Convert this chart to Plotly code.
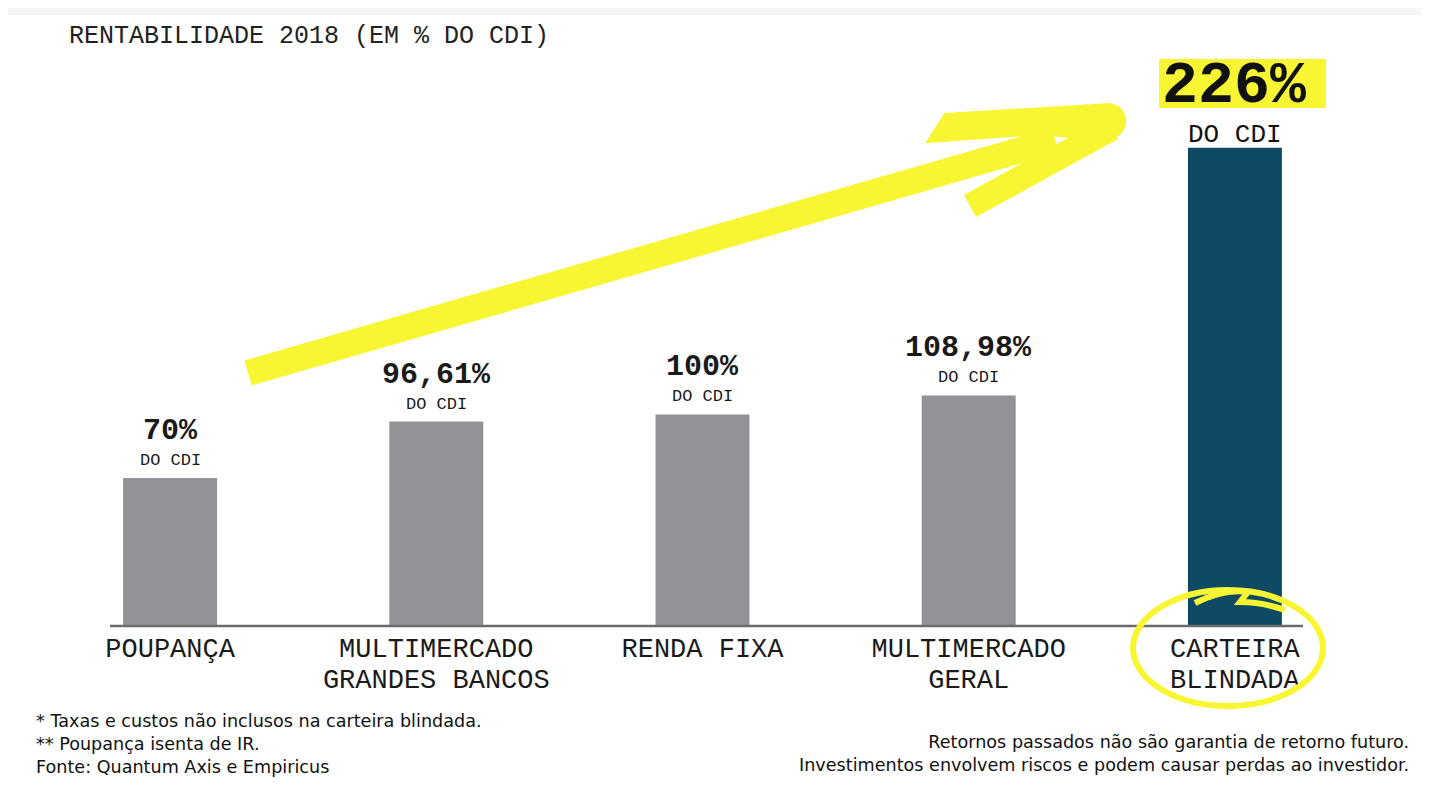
import plotly.graph_objects as go

# ---------------- data ----------------
categories = ["POUPANÇA", "MULTIMERCADO<br>GRANDES BANCOS", "RENDA FIXA",
              "MULTIMERCADO<br>GERAL", "CARTEIRA<br>BLINDADA"]
values = [70, 96.61, 100, 108.98, 226]
value_labels = ["70%", "96,61%", "100%", "108,98%", "226%"]
sub_label = "DO CDI"
bar_colors = ["#949296", "#949296", "#949296", "#949296", "#0E4A63"]

title_text = "RENTABILIDADE 2018 (EM % DO CDI)"
notes_left = ["* Taxas e custos não inclusos na carteira blindada.",
              "** Poupança isenta de IR.",
              "Fonte: Quantum Axis e Empiricus"]
notes_right = ["Retornos passados não são garantia de retorno futuro.",
               "Investimentos envolvem riscos e podem causar perdas ao investidor."]

# ---------------- layout geometry ----------------
# page body has an 8px margin, so the figure is drawn 8px smaller and
# all screen positions below are given in window pixels
OFF = 8
W, H = 1429 - 2 * OFF, 787 - 2 * OFF
PL, PR, PT, PB = 37, 1368, 97, 626          # plot area in window pixels
ML, MR, MT, MB = PL - OFF, W - (PR - OFF), PT - OFF, H - (PB - OFF)
PW, PH = PR - PL, PB - PT
YMAX = 250

def px(x):
    return (x - PL) / PW

def py(y):
    return (PB - y) / PH

TYPE = "Liberation Mono, Courier New, monospace"
SANS = "DejaVu Sans, Arial, sans-serif"
YELLOW = "#F8F533"

# tick labels: big glyphs with slightly tighter line spacing
ticktext = ["<br>".join(f"<span style='font-size:27px'>{part}</span>" for part in c.split("<br>"))
            for c in categories]

fig = go.Figure()
fig.add_trace(go.Bar(
    x=categories, y=values, marker=dict(color=bar_colors, line=dict(width=0)),
    width=0.353, hoverinfo="skip", showlegend=False,
))

annotations = []
for i, (c, v, lab) in enumerate(zip(categories, values, value_labels)):
    if i < len(categories) - 1:
        annotations.append(dict(x=c, y=v, xref="x", yref="y", text=sub_label,
                                showarrow=False, yanchor="bottom", yshift=6,
                                font=dict(family=TYPE, size=17, color="#1a1a1a")))
        annotations.append(dict(x=c, y=v, xref="x", yref="y", text="<b>" + lab + "</b>",
                                showarrow=False, yanchor="bottom", yshift=28,
                                font=dict(family=TYPE, size=30, color="#1a1a1a")))
    else:
        annotations.append(dict(x=c, y=v, xref="x", yref="y", text=sub_label,
                                showarrow=False, yanchor="bottom", yshift=-3, borderpad=0,
                                font=dict(family=TYPE, size=26, color="#111")))
        annotations.append(dict(x=c, y=v, xref="x", yref="y", text="<b>" + lab + "</b>",
                                showarrow=False, yanchor="bottom", yshift=27, borderpad=0,
                                font=dict(family=TYPE, size=60, color="#111")))

annotations.append(dict(x=px(67), y=py(36), xref="paper", yref="paper",
                        text=title_text, showarrow=False, xanchor="left", yanchor="middle",
                        font=dict(family=TYPE, size=25, color="#222")))
annotations.append(dict(x=px(34), y=py(709), xref="paper", yref="paper",
                        text="<br>".join(notes_left), showarrow=False, xanchor="left",
                        yanchor="top", align="left",
                        font=dict(family=SANS, size=17.6, color="#111")))
annotations.append(dict(x=px(1411), y=py(730), xref="paper", yref="paper",
                        text="<br>".join(notes_right), showarrow=False, xanchor="right",
                        yanchor="top", align="right",
                        font=dict(family=SANS, size=17.6, color="#111")))

shapes = [
    # top strip
    dict(type="rect", xref="paper", yref="paper", x0=px(0), x1=px(1429), y0=py(8), y1=py(15),
         fillcolor="#F5F5F5", line=dict(width=0), layer="below"),
    # baseline
    dict(type="line", xref="paper", yref="paper", x0=px(110), x1=px(1303), y0=py(626), y1=py(626),
         line=dict(color="#6b6b6b", width=2.5)),
    # highlight behind 226%
    dict(type="rect", xref="paper", yref="paper", x0=px(1159), x1=px(1326), y0=py(59), y1=py(108),
         fillcolor=YELLOW, line=dict(width=0), layer="below"),
    # arrow shaft
    dict(type="line", xref="paper", yref="paper", x0=px(248), y0=py(373), x1=px(1055), y1=py(140),
         line=dict(color=YELLOW, width=26)),
    # arrow upper barb
    dict(type="path", xref="paper", yref="paper",
         path=f"M {px(945)},{py(114)} L {px(1110)},{py(104)} L {px(1125)},{py(118)} "
              f"L {px(1100)},{py(140)} L {px(1040)},{py(134)} L {px(927)},{py(142)} Z",
         fillcolor=YELLOW, line=dict(color=YELLOW, width=2)),
    # arrow lower barb
    dict(type="line", xref="paper", yref="paper", x0=px(970), y0=py(206), x1=px(1112), y1=py(128),
         line=dict(color=YELLOW, width=25)),
    dict(type="circle", xref="paper", yref="paper", x0=px(1096), x1=px(1126), y0=py(104), y1=py(138),
         fillcolor=YELLOW, line=dict(width=0)),
    # circle around CARTEIRA BLINDADA
    dict(type="circle", xref="paper", yref="paper", x0=px(1133), x1=px(1323), y0=py(590), y1=py(706),
         line=dict(color=YELLOW, width=6)),
    dict(type="path", xref="paper", yref="paper",
         path=f"M {px(1195)},{py(603)} Q {px(1225)},{py(588)} {px(1248)},{py(592)} "
              f"L {px(1240)},{py(602)} Q {px(1262)},{py(602)} {px(1285)},{py(610)}",
         line=dict(color=YELLOW, width=6)),
]

fig.update_layout(
    width=W, height=H,
    margin=dict(l=ML, r=MR, t=MT, b=MB),
    paper_bgcolor="white", plot_bgcolor="white",
    xaxis=dict(type="category", showgrid=False, zeroline=False, showline=False,
               ticks="", tickfont=dict(family=TYPE, size=24, color="#1a1a1a"),
               tickvals=categories, ticktext=ticktext,
               range=[-0.5, 4.5], ticklabelstandoff=6),
    yaxis=dict(range=[0, YMAX], visible=False, showgrid=False, zeroline=False),
    annotations=annotations, shapes=shapes,
)

fig.write_html("out.html")
